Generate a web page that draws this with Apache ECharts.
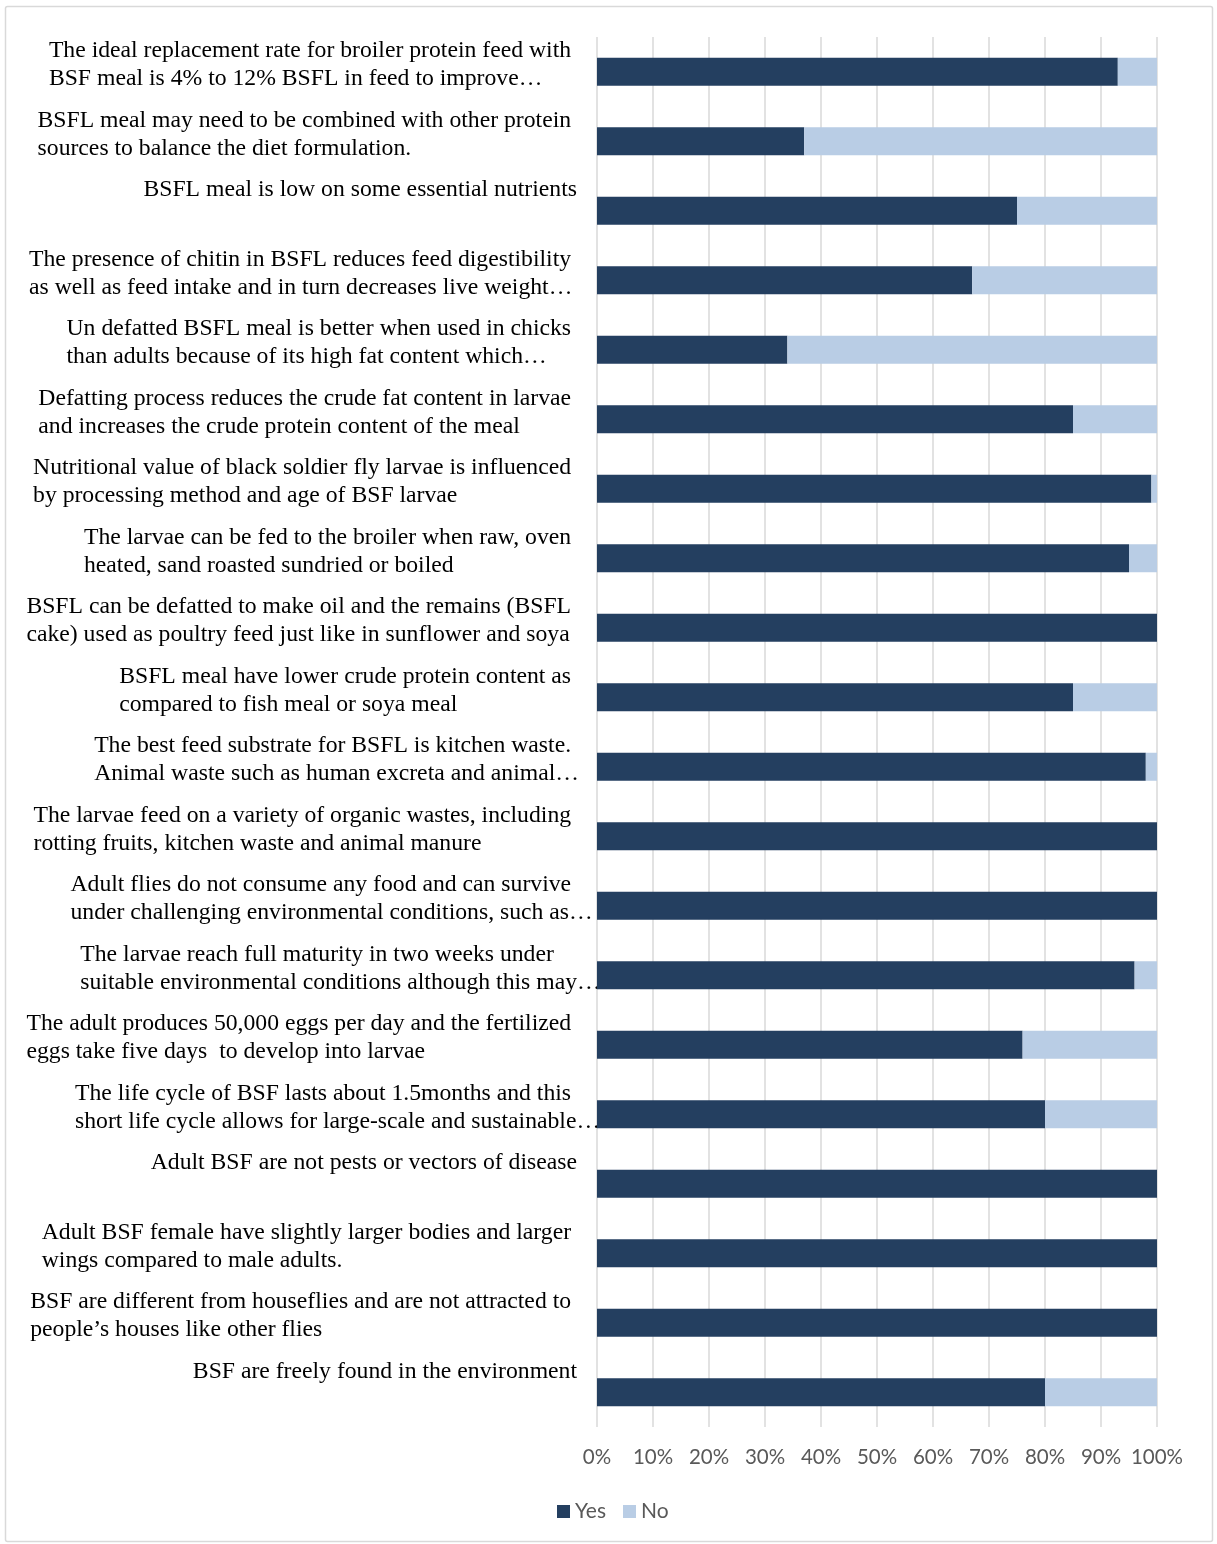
<!DOCTYPE html>
<html>
<head>
<meta charset="utf-8">
<script src="https://cdn.jsdelivr.net/npm/echarts@6/dist/echarts.min.js"></script>
<style>
  html, body { margin: 0; padding: 0; background: #ffffff; }
  #chart { width: 1217px; height: 1544px; }
</style>
</head>
<body>
<div id="chart"></div>
<script>
// Survey statements (wrapped as displayed, "…" marks a cut-off line)
const statements = [
  'The ideal replacement rate for broiler protein feed with\nBSF meal is 4% to 12% BSFL in feed to improve…',
  'BSFL meal may need to be combined with other protein\nsources to balance the diet formulation.',
  'BSFL meal is low on some essential nutrients',
  'The presence of chitin in BSFL reduces feed digestibility\nas well as feed intake and in turn decreases live weight…',
  'Un defatted BSFL meal is better when used in chicks\nthan adults because of its high fat content which…',
  'Defatting process reduces the crude fat content in larvae\nand increases the crude protein content of the meal',
  'Nutritional value of black soldier fly larvae is influenced\nby processing method and age of BSF larvae',
  'The larvae can be fed to the broiler when raw, oven\nheated, sand roasted sundried or boiled',
  'BSFL can be defatted to make oil and the remains (BSFL\ncake) used as poultry feed just like in sunflower and soya',
  'BSFL meal have lower crude protein content as\ncompared to fish meal or soya meal',
  'The best feed substrate for BSFL is kitchen waste.\nAnimal waste such as human excreta and animal…',
  'The larvae feed on a variety of organic wastes, including\nrotting fruits, kitchen waste and animal manure',
  'Adult flies do not consume any food and can survive\nunder challenging environmental conditions, such as…',
  'The larvae reach full maturity in two weeks under\nsuitable environmental conditions although this may…',
  'The adult produces 50,000 eggs per day and the fertilized\neggs take five days  to develop into larvae',
  'The life cycle of BSF lasts about 1.5months and this\nshort life cycle allows for large-scale and sustainable…',
  'Adult BSF are not pests or vectors of disease',
  'Adult BSF female have slightly larger bodies and larger\nwings compared to male adults.',
  'BSF are different from houseflies and are not attracted to\npeople\u2019s houses like other flies',
  'BSF are freely found in the environment'
];

// Share of respondents (%)
const yesShare = [93, 37, 75, 67, 34, 85, 99, 95, 100, 85, 98, 100, 100, 96, 76, 80, 100, 100, 100, 80];
const noShare  = [7, 63, 25, 33, 66, 15, 1, 5, 0, 15, 2, 0, 0, 4, 24, 20, 0, 0, 0, 20];

const seriesNames = ['Yes', 'No'];
const seriesColors = ['#243F60', '#B9CDE5'];

// Build a left-aligned multi-line rich label; a wrapped line keeps its
// trailing space and a trailing ellipsis hangs past the block edge.
function statementLabel(text) {
  if (!text) return '';
  const lines = text.split('\n');
  return lines.map(function (line, i) {
    const isLast = i === lines.length - 1;
    let body = line, tail = '';
    if (body.endsWith('\u2026')) {
      body = body.slice(0, -1);
      tail = '{e|\u2026}';
    }
    return '{t|' + body + (isLast ? '' : ' ') + '}' + tail;
  }).join('\n');
}

const serif = '"Liberation Serif", "Times New Roman", serif';
const sans = 'Lato, "Open Sans", sans-serif';
const labelFont = { fontFamily: serif, fontSize: 23.7, lineHeight: 28, color: '#000000', align: 'left' };

const chart = echarts.init(document.getElementById('chart'), null, { renderer: 'canvas' });

chart.setOption({
  animation: false,
  backgroundColor: '#ffffff',
  graphic: [{
    type: 'rect',
    silent: true,
    z: -10,
    shape: { x: 5.5, y: 6.5, width: 1207, height: 1535, r: 2 },
    style: { fill: 'none', stroke: '#d9d9d9', lineWidth: 1.5 }
  }],
  grid: { left: 597, right: 60, top: 37, height: 1390 },
  legend: {
    data: seriesNames,
    left: 552,
    top: 1496,
    icon: 'rect',
    itemWidth: 13,
    itemHeight: 13,
    itemGap: 17,
    textStyle: { fontFamily: sans, fontSize: 21, color: '#595959' }
  },
  xAxis: {
    type: 'value',
    min: 0,
    max: 100,
    interval: 10,
    axisLine: { show: false },
    axisTick: { show: false },
    splitLine: { show: true, lineStyle: { color: '#d9d9d9', width: 1.5 } },
    axisLabel: {
      formatter: '{value}%',
      margin: 20,
      fontFamily: sans,
      fontSize: 20.5,
      lineHeight: 21,
      color: '#595959'
    }
  },
  yAxis: [
    {
      type: 'category',
      data: statements,
      inverse: true,
      axisLine: { show: false },
      axisTick: { show: false },
      axisLabel: { show: false },
      splitLine: { show: false }
    },
    {
      // label axis: one tick per band top, text hangs below it
      type: 'category',
      data: statements.concat(['']),
      boundaryGap: false,
      inverse: true,
      position: 'left',
      offset: 0,
      axisLine: { show: false },
      axisTick: { show: false },
      splitLine: { show: false },
      axisLabel: {
        interval: 0,
        margin: 20,
        verticalAlign: 'top',
        formatter: statementLabel,
        rich: {
          t: labelFont,
          e: Object.assign({}, labelFont, { width: 0 })
        }
      }
    }
  ],
  series: [
    {
      name: seriesNames[0],
      type: 'bar',
      stack: 'share',
      yAxisIndex: 0,
      barWidth: 28,
      itemStyle: { color: seriesColors[0] },
      data: yesShare
    },
    {
      name: seriesNames[1],
      type: 'bar',
      stack: 'share',
      yAxisIndex: 0,
      barWidth: 28,
      itemStyle: { color: seriesColors[1] },
      data: noShare
    }
  ]
});
</script>
</body>
</html>
